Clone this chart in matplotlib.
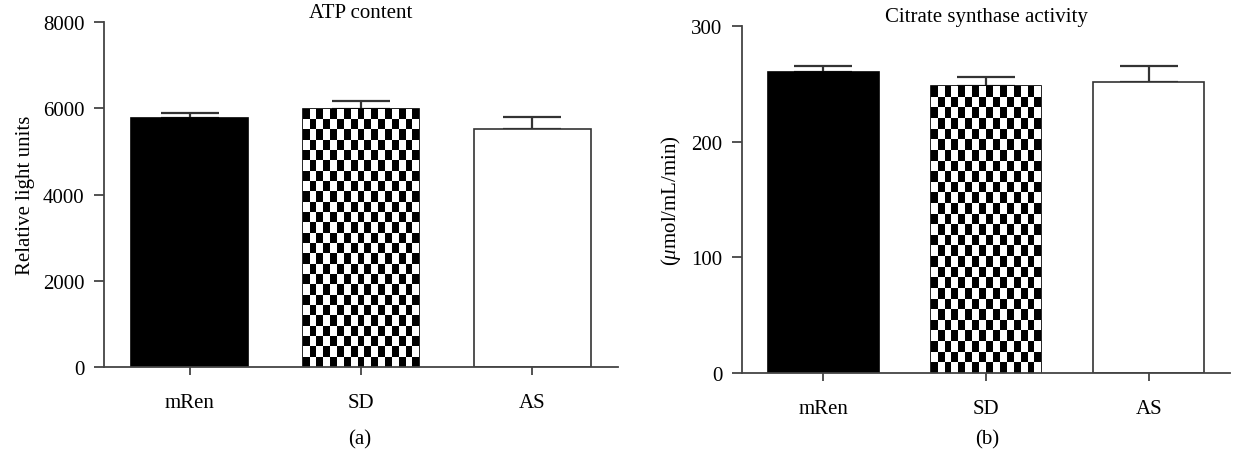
import numpy as np
import matplotlib
matplotlib.use("Agg")
import matplotlib.pyplot as plt

# Data
groups = ["mRen", "SD", "AS"]
atp_mean = [5770, 5990, 5520]
atp_err = [110, 190, 270]
cs_mean = [260, 248, 252]
cs_err = [5, 8, 13]

plt.rcParams["font.family"] = ["Liberation Serif", "DejaVu Serif"]
plt.rcParams["mathtext.fontset"] = "custom"
plt.rcParams["mathtext.rm"] = "Liberation Serif"
plt.rcParams["mathtext.it"] = "Liberation Serif:italic"

AXIS_COLOR = "#444444"
FS = 15


def checker_fill(ax, bar, cell_w=7, cell_h=10.5):
    # fill a bar with a black/white checkerboard clipped to the bar outline
    x0, y0 = bar.get_x(), bar.get_y()
    x1, y1 = x0 + bar.get_width(), y0 + bar.get_height()
    p0 = ax.transData.transform((x0, y0))
    p1 = ax.transData.transform((x1, y1))
    ncols = max(1, int(round((p1[0] - p0[0]) / cell_w)))
    nrows = max(1, int(round((p1[1] - p0[1]) / cell_h)))
    board = np.indices((nrows, ncols)).sum(axis=0) % 2
    xe = np.linspace(x0, x1, ncols + 1)
    # rows start from the top of the bar
    ye = y1 - np.arange(nrows + 1) * (y1 - y0) / nrows
    mesh = ax.pcolormesh(xe, ye, board, cmap="gray", vmin=0, vmax=1,
                         shading="flat", antialiased=False, zorder=2)
    mesh.set_clip_path(bar)


def draw_panel(ax, fig, means, errs, ymax, ystep, title, ylabel):
    x = np.arange(len(groups))
    ax.set_xlim(-0.5, len(groups) - 0.5)
    ax.set_ylim(0, ymax)
    bars = ax.bar(x, means, width=0.68, zorder=2)
    bars[0].set_facecolor("black")
    bars[0].set_edgecolor("black")
    bars[1].set_facecolor("white")
    bars[1].set_edgecolor("black")
    bars[2].set_facecolor("white")
    bars[2].set_edgecolor("#333333")
    for b in bars:
        b.set_linewidth(1.2)
    ax.errorbar(x, means, yerr=[[0] * len(errs), errs], fmt="none",
                ecolor="#333333", elinewidth=1.6, capsize=21, capthick=1.6, zorder=1)
    fig.canvas.draw()
    checker_fill(ax, bars[1])

    ax.set_yticks(np.arange(0, ymax + 1, ystep))
    ax.set_xticks(x)
    ax.set_xticklabels(groups)
    for side in ["top", "right"]:
        ax.spines[side].set_visible(False)
    for side in ["left", "bottom"]:
        ax.spines[side].set_color(AXIS_COLOR)
        ax.spines[side].set_linewidth(1.3)
    ax.tick_params(axis="y", direction="out", length=7, width=1.3,
                   color=AXIS_COLOR, labelsize=FS, pad=7)
    ax.tick_params(axis="x", direction="out", length=6, width=1.3,
                   color=AXIS_COLOR, labelsize=FS, pad=13)
    ax.set_title(title, fontsize=FS, pad=1)
    ax.set_ylabel(ylabel, fontsize=FS, labelpad=6)


fig = plt.figure(figsize=(12.59, 4.52), dpi=100)
ax1 = fig.add_axes([0.0826, 0.1858, 0.4083, 0.7632])
ax2 = fig.add_axes([0.5894, 0.1726, 0.3876, 0.7677])

draw_panel(ax1, fig, atp_mean, atp_err, 8000, 2000, "ATP content", "Relative light units")
draw_panel(ax2, fig, cs_mean, cs_err, 300, 100, "Citrate synthase activity",
           r"($\mu$mol/mL/min)")

fig.text(360 / 1259, 1 - 440 / 452, "(a)", ha="center", va="center", fontsize=FS)
fig.text(987 / 1259, 1 - 440 / 452, "(b)", ha="center", va="center", fontsize=FS)

fig.savefig("out.png", dpi=100)
